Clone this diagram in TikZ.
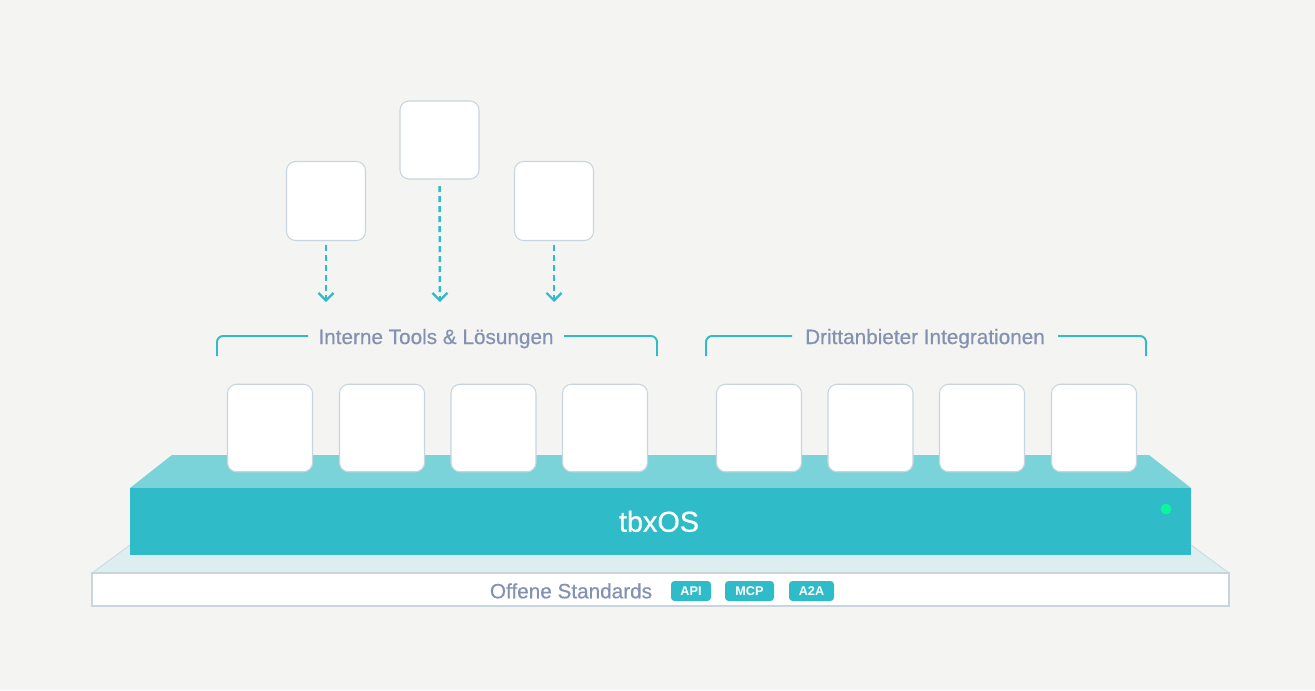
\documentclass[tikz,border=0pt]{standalone}
\usepackage{fontspec}
\setmainfont{Liberation Sans}
\newfontfamily\medfont{Liberation Sans}[FakeBold=0.6]
\usetikzlibrary{arrows.meta}
\definecolor{bg}{HTML}{F4F4F2}
\definecolor{tealc}{HTML}{2FBBC7}
\definecolor{topface}{HTML}{7AD3D9}
\definecolor{basetop}{HTML}{DDEEF1}
\definecolor{edgec}{HTML}{C8D5DE}
\definecolor{slate}{HTML}{8492B2}
\definecolor{led}{HTML}{0AF59C}
\begin{document}
\begin{tikzpicture}[x=0.02cm,y=-0.02cm,
  card/.style={draw=edgec,fill=white,line width=0.6pt,rounded corners=0.18cm,
    minimum width=1.7cm,minimum height=1.75cm,inner sep=0pt},
  topcard/.style={card,minimum width=1.58cm,minimum height=1.58cm},
  flow/.style={draw=tealc,line width=1.4pt,dash pattern=on 0.12cm off 0.08cm,
    -{Straight Barb[length=0.15cm,width=0.3cm,line width=1.3pt]}},
  bracketline/.style={draw=tealc,line width=1.1pt,rounded corners=0.12cm},
  grouplabel/.style={text=slate,font=\medfont\fontsize{11.8}{14}\selectfont,anchor=base,inner sep=0pt},
  badge/.style={fill=tealc,rounded corners=0.07cm,text=white,
    font=\bfseries\fontsize{7.2}{8}\selectfont,minimum height=0.4cm,inner sep=0pt}]
\fill[bg] (0,0) rectangle (1315,690);
\useasboundingbox (0,0) rectangle (1315,690);

% base plate
\fill[basetop] (130,545) -- (1191,545) -- (1229,573) -- (92,573) -- cycle;
\draw[edgec,line width=0.4pt] (130,545) -- (92,573);
\draw[edgec,line width=0.4pt] (1191,545) -- (1229,573);
\draw[edgec,fill=white,line width=0.6pt] (92,573) rectangle (1229,606);

% platform
\fill[topface] (130,488) -- (172,455) -- (1149,455) -- (1191,488) -- cycle;
\fill[tealc] (130,488) rectangle (1191,555);
\fill[led] (1166,509) circle (0.11cm);
\node[text=white,font=\medfont\fontsize{16.4}{19}\selectfont,anchor=base,inner sep=0pt] (os) at (659,531.7) {tbxOS};

% standards
\node[grouplabel] (std) at (571,598.3) {Offene Standards};
\node[badge,minimum width=0.8cm] (api) at (691,591) {API};
\node[badge,minimum width=0.98cm] (mcp) at (749.5,591) {MCP};
\node[badge,minimum width=0.9cm] (a2a) at (811.5,591) {A2A};

% cards on platform
\node[card] (c1) at (270,428) {};
\node[card] (c2) at (382,428) {};
\node[card] (c3) at (493.5,428) {};
\node[card] (c4) at (605,428) {};
\node[card] (c5) at (759,428) {};
\node[card] (c6) at (870.5,428) {};
\node[card] (c7) at (982,428) {};
\node[card] (c8) at (1094,428) {};

% group brackets
\node[grouplabel] (g1) at (436,344) {Interne Tools \& Lösungen};
\node[grouplabel] (g2) at (925,344) {Drittanbieter Integrationen};
\draw[bracketline] (217,356) |- (308,336);
\draw[bracketline] (564,336) -| (657,356);
\draw[bracketline] (706,356) |- (792,336);
\draw[bracketline] (1058,336) -| (1146,356);

% top cards and arrows
\node[topcard] (t1) at (326,201) {};
\node[topcard,minimum height=1.56cm] (t2) at (439.5,140) {};
\node[topcard] (t3) at (554,201) {};
\coordinate (a1) at (326,302);
\coordinate (a2) at (440,302);
\coordinate (a3) at (554,302);
\draw[flow,shorten <=0.08cm] (t1.south) -- (a1);
\draw[flow,shorten <=0.13cm] (t2.south) -- (a2);
\draw[flow,shorten <=0.08cm] (t3.south) -- (a3);
\end{tikzpicture}
\end{document}
